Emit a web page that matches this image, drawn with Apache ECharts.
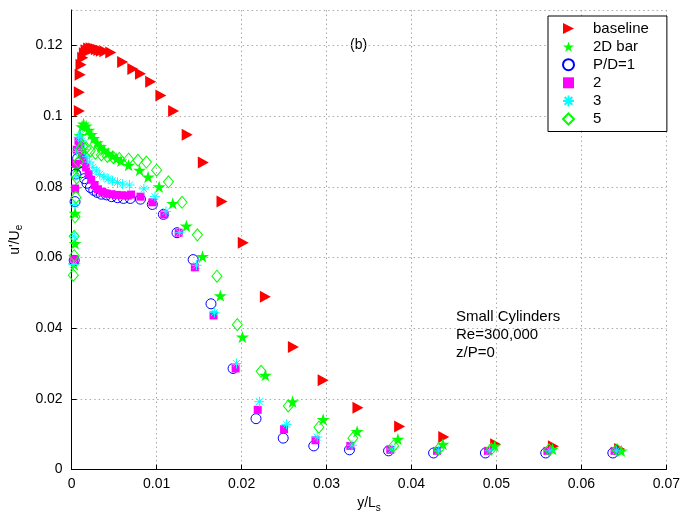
<!DOCTYPE html>
<html>
<head>
<meta charset="utf-8">
<script src="https://cdn.jsdelivr.net/npm/echarts@6/dist/echarts.min.js"></script>
<style>html,body{margin:0;padding:0;background:#fff}#c{width:683px;height:518px}</style>
</head>
<body>
<div id="c"></div>
<script>
// ---- data (x = y/L_s, y = u'/U_e) ----
var baseline = [[0.0009,0.1014],[0.0009,0.1067],[0.0010,0.1117],[0.0011,0.1145],[0.0013,0.1165],[0.0015,0.1178],[0.0017,0.1186],[0.0020,0.1191],[0.0023,0.1192],[0.0026,0.1191],[0.0029,0.1189],[0.0032,0.1187],[0.0035,0.1185],[0.0039,0.1183],[0.0046,0.1180],[0.0060,0.1153],[0.0072,0.1133],[0.0081,0.1120],[0.0093,0.1097],[0.0105,0.1058],[0.0120,0.1014],[0.0136,0.0947],[0.0155,0.0869],[0.0177,0.0758],[0.0202,0.0642],[0.0228,0.0489],[0.0261,0.0347],[0.0296,0.0253],[0.0337,0.0175],[0.0386,0.0122],[0.0438,0.0092],[0.0499,0.0072],[0.0567,0.0066],[0.0645,0.0058]];
var bar2D = [[0.0003,0.0580],[0.0004,0.0640],[0.0004,0.0725],[0.0005,0.0795],[0.0006,0.0855],[0.0008,0.0905],[0.0010,0.0945],[0.0012,0.0970],[0.0014,0.0978],[0.0017,0.0972],[0.0020,0.0960],[0.0023,0.0948],[0.0026,0.0937],[0.0030,0.0925],[0.0034,0.0914],[0.0038,0.0904],[0.0043,0.0895],[0.0048,0.0887],[0.0053,0.0880],[0.0058,0.0873],[0.0067,0.0861],[0.0080,0.0847],[0.0090,0.0828],[0.0103,0.0800],[0.0119,0.0753],[0.0135,0.0689],[0.0154,0.0603],[0.0175,0.0492],[0.0201,0.0375],[0.0228,0.0267],[0.0260,0.0192],[0.0296,0.0142],[0.0336,0.0108],[0.0384,0.0086],[0.0437,0.0072],[0.0498,0.0067],[0.0566,0.0058],[0.0647,0.0053]];
var pd1 = [[0.0003,0.0592],[0.0004,0.0758],[0.0005,0.0836],[0.0007,0.0880],[0.0009,0.0868],[0.0012,0.0840],[0.0015,0.0823],[0.0018,0.0810],[0.0022,0.0798],[0.0026,0.0790],[0.0030,0.0784],[0.0035,0.0779],[0.0041,0.0777],[0.0047,0.0772],[0.0054,0.0769],[0.0061,0.0767],[0.0069,0.0767],[0.0081,0.0765],[0.0095,0.0750],[0.0108,0.0722],[0.0124,0.0670],[0.0143,0.0594],[0.0164,0.0469],[0.0190,0.0286],[0.0217,0.0144],[0.0249,0.0089],[0.0285,0.0067],[0.0327,0.0056],[0.0373,0.0053],[0.0426,0.0047],[0.0487,0.0047],[0.0558,0.0047],[0.0637,0.0047]];
var pd2 = [[0.0003,0.0595],[0.0004,0.0795],[0.0005,0.0865],[0.0006,0.0905],[0.0008,0.0930],[0.0010,0.0920],[0.0012,0.0895],[0.0014,0.0875],[0.0017,0.0855],[0.0020,0.0836],[0.0023,0.0820],[0.0027,0.0805],[0.0031,0.0793],[0.0036,0.0786],[0.0041,0.0781],[0.0047,0.0779],[0.0053,0.0777],[0.0059,0.0776],[0.0066,0.0775],[0.0070,0.0778],[0.0081,0.0772],[0.0095,0.0756],[0.0109,0.0722],[0.0126,0.0670],[0.0145,0.0572],[0.0167,0.0436],[0.0193,0.0286],[0.0219,0.0169],[0.0250,0.0114],[0.0287,0.0083],[0.0328,0.0067],[0.0375,0.0056],[0.0430,0.0053],[0.0490,0.0053],[0.0560,0.0053],[0.0639,0.0053]];
var pd3 = [[0.0002,0.0580],[0.0003,0.0660],[0.0004,0.0750],[0.0005,0.0830],[0.0006,0.0900],[0.0008,0.0940],[0.0010,0.0945],[0.0012,0.0930],[0.0015,0.0905],[0.0018,0.0885],[0.0021,0.0870],[0.0025,0.0855],[0.0029,0.0845],[0.0033,0.0835],[0.0038,0.0828],[0.0043,0.0822],[0.0048,0.0817],[0.0054,0.0812],[0.0060,0.0808],[0.0068,0.0805],[0.0085,0.0794],[0.0098,0.0772],[0.0111,0.0730],[0.0127,0.0670],[0.0147,0.0578],[0.0168,0.0444],[0.0194,0.0300],[0.0221,0.0192],[0.0253,0.0128],[0.0289,0.0092],[0.0330,0.0069],[0.0377,0.0058],[0.0432,0.0053],[0.0492,0.0053],[0.0563,0.0053],[0.0641,0.0053]];
var pd5 = [[0.0002,0.0550],[0.0003,0.0605],[0.0003,0.0660],[0.0004,0.0715],[0.0005,0.0770],[0.0006,0.0825],[0.0008,0.0870],[0.0010,0.0905],[0.0013,0.0915],[0.0017,0.0910],[0.0022,0.0902],[0.0028,0.0895],[0.0035,0.0890],[0.0042,0.0886],[0.0049,0.0883],[0.0056,0.0880],[0.0067,0.0878],[0.0078,0.0875],[0.0088,0.0870],[0.0100,0.0847],[0.0114,0.0814],[0.0130,0.0756],[0.0148,0.0664],[0.0171,0.0547],[0.0195,0.0410],[0.0223,0.0278],[0.0255,0.0180],[0.0291,0.0120],[0.0331,0.0089],[0.0379,0.0067],[0.0432,0.0058],[0.0494,0.0058],[0.0562,0.0056],[0.0642,0.0056]];
var seriesNames = ['baseline','2D bar','P/D=1','2','3','5'];
var xTicks = {min:0, max:0.07, step:0.01};
var yTicks = {min:0, max:0.13, step:0.02};

var FONT = 'Liberation Sans, Arial, Helvetica, sans-serif';
var TRI = 'path://M0,0L10,5L0,10Z';
var STAR = 'path://M50,0L61,35L98,35L68,57L79,91L50,70L21,91L32,57L2,35L39,35Z';
var AST = 'path://M0,5L10,5M5,0L5,10M1.5,1.5L8.5,8.5M1.5,8.5L8.5,1.5';

function mk(name, data, symbol, size, style){
  style.opacity = 1;
  return {type:'scatter', name:name, data:data, symbol:symbol, symbolSize:size,
    symbolKeepAspect:true, itemStyle:style, animation:false, emphasis:{disabled:true}};
}

var chart = echarts.init(document.getElementById('c'), null, {renderer:'canvas'});
chart.setOption({
  backgroundColor:'#fff',
  animation:false,
  grid:{left:71, right:16, top:10, bottom:40, containLabel:false},
  xAxis:{type:'value', min:xTicks.min, max:xTicks.max, interval:xTicks.step,
    name:'y/L{s|s}', nameLocation:'middle', nameGap:22,
    nameTextStyle:{fontFamily:FONT, fontSize:14, color:'#000', rich:{s:{fontSize:10, fontFamily:FONT, padding:[9,0,0,0]}}},
    axisLine:{onZero:false, lineStyle:{color:'#000', width:1}},
    axisTick:{inside:true, length:5, lineStyle:{color:'#000'}},
    axisLabel:{fontFamily:FONT, fontSize:14, color:'#000', margin:8,
      formatter:function(v){return v===0?'0':String(+v.toFixed(2));}},
    splitLine:{show:true, lineStyle:{color:'#aaa', type:[1.5,3], width:1}}},
  yAxis:{type:'value', min:yTicks.min, max:yTicks.max, interval:yTicks.step,
    name:"u'/U{s|e}", nameLocation:'middle', nameGap:32, nameRotate:90,
    nameTextStyle:{fontFamily:FONT, fontSize:14, color:'#000', rich:{s:{fontSize:10, fontFamily:FONT, padding:[9,0,0,0]}}},
    axisLine:{onZero:false, lineStyle:{color:'#000', width:1}},
    axisTick:{inside:true, length:5, lineStyle:{color:'#000'}},
    axisLabel:{fontFamily:FONT, fontSize:14, color:'#000', margin:9, showMaxLabel:false,
      formatter:function(v){return v===0?'0':String(+v.toFixed(2));}},
    splitLine:{show:true, lineStyle:{color:'#aaa', type:[1.5,3], width:1}}},
  legend:{show:true, orient:'vertical', left:548, top:16, data:seriesNames,
    padding:[5,18,5,14], itemWidth:11, itemHeight:11, itemGap:3.1,
    borderColor:'#000', borderWidth:1, backgroundColor:'#fff',
    textStyle:{fontFamily:FONT, fontSize:15, color:'#000', padding:[0,0,0,14]}},
  graphic:[
    {type:'text', left:350, top:38, style:{text:'(b)', font:'14px '+FONT, fill:'#000'}},
    {type:'text', left:456, top:309, style:{text:'Small Cylinders', font:'15px '+FONT, fill:'#000'}},
    {type:'text', left:456, top:327, style:{text:'Re=300,000', font:'15px '+FONT, fill:'#000'}},
    {type:'text', left:456, top:345, style:{text:'z/P=0', font:'15px '+FONT, fill:'#000'}}
  ],
  series:[
    mk(seriesNames[0], baseline, TRI, [11,12], {color:'#ff0000'}),
    mk(seriesNames[1], bar2D, STAR, [13,13], {color:'#00ff00'}),
    mk(seriesNames[2], pd1, 'circle', 10, {color:'rgba(0,0,0,0)', borderColor:'#0000ff', borderWidth:1}),
    mk(seriesNames[3], pd2, 'rect', 8, {color:'#ff00ff'}),
    mk(seriesNames[4], pd3, AST, 10, {color:'rgba(0,0,0,0)', borderColor:'#00ffff', borderWidth:1}),
    mk(seriesNames[5], pd5, 'diamond', [10,12], {color:'rgba(0,0,0,0)', borderColor:'#00ff00', borderWidth:1})
  ]
});
</script>
</body>
</html>
